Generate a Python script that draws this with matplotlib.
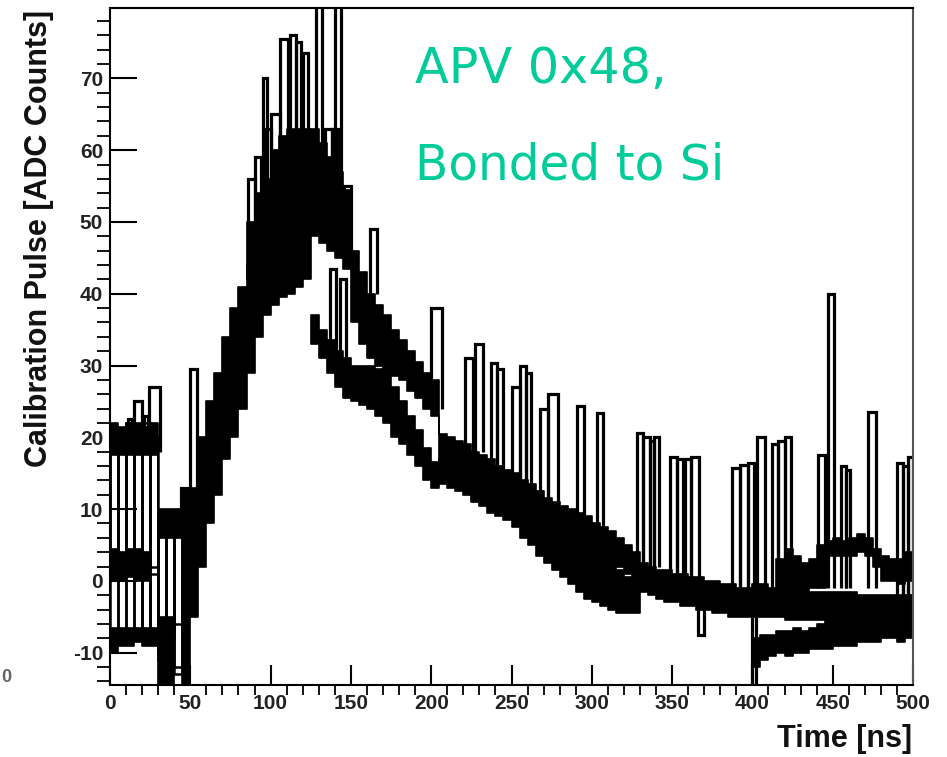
import numpy as np
import matplotlib
matplotlib.use("Agg")
import matplotlib.pyplot as plt

plt.rcParams["axes.unicode_minus"] = False

BIN = 5.0  # ns per sample bin

# ---- early region (0-50 ns): three level bands, per bin ----
EARLY_T0 = 0
EA_LO = [17.5, 17.5, 17.5, 17.5, 17.5, 17.5, 6.0, 6.0, 6.0, -14.5]
EA_HI = [22.0, 21.5, 22.0, 22.0, 21.5, 22.0, 10.0, 10.0, 10.0, 12.7]
EB_LO = [0.0, 0.0, 0.5, 0.0, 0.0, 0.5, np.nan, np.nan, np.nan, np.nan]
EB_HI = [4.5, 4.0, 4.5, 4.5, 4.0, 4.5, np.nan, np.nan, np.nan, np.nan]
EC_LO = [-10.0, -9.0, -9.0, -8.5, -9.0, -9.0, -14.5, -14.5, -14.5, np.nan]
EC_HI = [-6.5, -6.5, -6.5, -6.5, -6.5, -6.5, -5.0, -5.0, -5.0, np.nan]

# single channels jumping between levels in the first 50 ns
CH_EARLY = [
    [21, 2, 20, 3, 22, 2, 9, -8, 8, 12],
    [-8, 3, -7, 19, -8, 1, -10, 8, -12, 5],
    [2, 20, 1, -8, 18, -7, 8, 8, -13, 0],
    [20, -8, 22, 2, -7, 20, -11, 9, -6, 10],
]

# ---- rising edge, all channels (50-125 ns) ----
RISE_T0 = 50
RISE_LO = [-5, 2, 8, 12, 17, 20, 24, 29, 34, 37, 38.5, 39.5, 40, 41, 42]
RISE_HI = [13, 20, 25, 29, 34, 38, 41, 44, 47, 49, 50.5, 51, 51, 51, 51]

# ---- upper group around the peak (85-125 ns) ----
UP_T0 = 85
UP_LO = [42, 45, 47, 48, 48.5, 49, 49, 48.5]
UP_HI = [50, 54, 56, 60, 62, 63, 63, 63]

# ---- slow group, decay (125-500 ns) ----
SLOW_T0 = 125
SLOW_LO = [48, 47, 46, 45, 43.5, 36, 33, 31, 30, 29.5, 28.5, 28, 26.5, 25.5, 24, 23,
           15.5, 15, 14.5, 14, 13, 12.5, 12, 11, 10.5, 10, 9.5, 9, 8, 7.5, 7, 6, 5.5,
           4.5, 4, 3.5, 3, 2.5, 2, 1, 0, -1.5, -2, -2.5, -3, -3, -3.5, -3.5, -4, -4,
           -4.5, -4.5, -5, -5, -5, -5, -5, -5, -5, -5.5, -5.5, -5.5, -5.5, -5.5, -6,
           -6, -6, -6, -6, -6, -6, -6, -6, -6, -6]
SLOW_HI = [63, 61, 59, 57, 54.5, 46, 43, 40, 38.5, 37, 35, 33.5, 32, 30.5, 29, 28,
           20.5, 20, 19.5, 19, 18, 17.5, 17, 16, 15.5, 15, 14, 13.5, 12.5, 11.5, 11,
           10.5, 10, 9.5, 9, 8, 7.5, 7, 6, 5, 4, 2.5, 2, 1.5, 1.5, 1, 1, 0.5, 0.5, 0,
           0, -0.5, -0.5, -1, -1, -0.5, -0.5, -1, -1, -1, -1, -1, -1.5, -1.5, -1.5,
           -1.5, -1.5, -1.5, -2, -2, -2, -2, -2, -2, -2]

# ---- fast group, drops at 125 ns (125-330 ns) ----
FAST_T0 = 125
FAST_LO = [33, 31, 29, 27, 25.5, 25, 24.5, 24, 23, 22, 20, 19, 17.5, 16, 14, 13,
           13.5, 13, 12.5, 12, 11, 10.5, 9.5, 9, 8.5, 7.5, 6, 5, 3.5, 2.5, 1.5, 0.5,
           -0.5, -1.5, -2.5, -3, -3.5, -4, -4.5, -4.5, -4.5]
FAST_HI = [37, 35, 33.5, 32, 31, 30, 30, 30, 29.5, 29.5, 27, 25, 23, 21, 18.5, 16.5,
           17, 16.5, 16, 15.5, 15, 14.5, 13.5, 13, 12.5, 12, 11, 10, 9, 8, 7.5, 6.5,
           6, 5, 4, 3.5, 3, 2.5, 1.5, 0.5, 0]

# ---- group that drops at 400 ns ----
LATE_T0 = 400
LATE_LO = [-12, -11, -10.5, -10, -10.5, -10, -10, -9.5, -9.5, -9.5, -9, -9, -9, -8.5,
           -8.5, -8.5, -8, -8, -8.5, -8]
LATE_HI = [-8, -7.5, -7.5, -7, -7, -6.5, -7, -6.5, -6, -6, -6, -5.5, -6, -5.5, -5, -5,
           -5, -5, -5, -4.5]

# ---- small upper group at the end ----
TAIL_T0 = 415
TAIL_LO = [-1, -1, -1, -1, -1, -1, 3.5, 3.5, 3.5, 3.5, 4, 3.5, 2, 0, 0, -0.5, 0]
TAIL_HI = [3, 4.5, 3.5, 2.5, 3, 5, 5.5, 6, 5.5, 6, 6.5, 6, 4.5, 3.5, 3, 3, 4]

# ---- isolated spikes: (t start, t end, top, base) ----
SPIKES = [
    (11, 14, 22.5, 18), (15, 20, 25, 18), (21, 23.5, 23, 18), (24, 31, 27, 18),
    (44, 49, 13, 10), (50, 54, 29.5, 12),
    (86, 90, 56, 44), (90, 94, 59, 46), (95, 98, 70, 52), (97, 100, 63, 52),
    (100, 106, 65, 55), (106, 111, 75.5, 58), (112, 116, 76, 58), (116, 119, 75, 58),
    (120, 123, 73.5, 58), (127, 130, 60, 50), (128, 132, 85, 58), (134, 138, 63, 52),
    (138, 142, 63, 55), (140, 144, 85, 55), (146, 150, 55, 45),
    (137, 141, 43.5, 30), (143, 147, 42, 28), (162, 166, 49, 40),
    (200, 207, 38, 24), (221, 226, 31, 18), (227, 232, 33, 18), (237, 241, 30.3, 15),
    (241, 245, 29.5, 15), (250, 255, 27, 13), (255, 259, 30, 13), (259, 262, 29, 13),
    (268, 273, 24, 10), (273, 279, 26, 10),
    (291, 295, 24.3, 8), (303, 307, 23.4, 7),
    (328, 332, 20.6, 2), (332, 336, 20, 2), (336, 339, 19.5, 2), (339, 342, 20, 2),
    (349, 353, 17.3, 0), (353, 357, 17, 0), (358, 362, 17, 0), (362, 367, 17.3, 0),
    (366, 370, -7.5, -3),
    (387, 392, 15.7, -1), (392, 397, 16.2, -1), (397, 401, 16.4, -1),
    (400, 402, -14.5, -5), (403, 408, 20, -1), (412, 416, 19, -1), (416, 420, 19.5, -1),
    (420, 424, 20, -1), (441, 445, 17.5, -1), (447, 451, 40, -1), (455, 458, 16, -1),
    (458, 461, 15.5, -1), (472, 477, 23.5, -1), (490, 494, 16.4, -2), (494, 497, 16, -2),
    (497, 500, 17.3, -2),
]

XTICKS = list(range(0, 501, 50))
YTICKS = list(range(-10, 71, 10))
GREEN = "#00CC99"
FONT = "Liberation Sans"


def band(ax, t0, lo, hi):
    lo = np.asarray(lo, float)
    hi = np.asarray(hi, float)
    edges = t0 + BIN * np.arange(len(lo) + 1)
    ax.fill_between(edges, np.append(lo, lo[-1]), np.append(hi, hi[-1]),
                    step="post", facecolor="k", edgecolor="k", lw=1.2)


fig = plt.figure(figsize=(9.47, 7.57), dpi=100)
ax = fig.add_axes([110 / 947, 1 - 685 / 757, 803 / 947, 677 / 757])

for t0, lo, hi in [(EARLY_T0, EA_LO, EA_HI), (EARLY_T0, EB_LO, EB_HI), (EARLY_T0, EC_LO, EC_HI),
                   (RISE_T0, RISE_LO, RISE_HI), (UP_T0, UP_LO, UP_HI),
                   (SLOW_T0, SLOW_LO, SLOW_HI), (FAST_T0, FAST_LO, FAST_HI),
                   (LATE_T0, LATE_LO, LATE_HI), (TAIL_T0, TAIL_LO, TAIL_HI)]:
    band(ax, t0, lo, hi)

for ch in CH_EARLY:
    ax.stairs(ch, EARLY_T0 + BIN * np.arange(len(ch) + 1), color="k", lw=1.8)

for t0, t1, top, base in SPIKES:
    ax.stairs([top], [t0, t1], baseline=base, color="k", lw=2.3)

ax.set_xlim(0, 500)
ax.set_ylim(-14.5, 79.8)
ax.set_xticks(XTICKS)
ax.set_xticks(np.arange(0, 501, 10), minor=True)
ax.set_yticks(YTICKS)
ax.set_yticks(np.arange(-14, 80, 2), minor=True)
ax.tick_params(direction="in", width=1.5, colors="k", labelcolor="#222222",
               labelsize=15, top=False, right=False)
ax.tick_params(axis="x", which="major", length=14.4, pad=6.5)
ax.tick_params(axis="x", which="minor", length=7.2, width=1.3)
ax.tick_params(axis="y", which="major", length=19.5, pad=5)
ax.tick_params(axis="y", which="minor", length=9.7, width=1.3)
for lab in ax.get_xticklabels() + ax.get_yticklabels():
    lab.set_fontfamily(FONT)
    lab.set_fontweight("bold")
for s in ax.spines.values():
    s.set_linewidth(1.5)
ax.spines["right"].set_color("#555555")

fig.text(912 / 947, 1 - 747 / 757, "Time [ns]", ha="right", va="baseline",
         fontsize=22, fontweight="bold", family=FONT, color="#111111")
fig.text(39 / 947, 1 - 10 / 757, "Calibration Pulse [ADC Counts]", rotation=90,
         ha="center", va="top", fontsize=22, fontweight="bold", family=FONT, color="#111111")
fig.text(1 / 947, 1 - 678 / 757, "0", ha="left", va="center", fontsize=13,
         fontweight="bold", family=FONT, color="#666666")

ax.text(415 / 947, 1 - 83 / 757, "APV 0x48,", transform=fig.transFigure, ha="left",
        va="baseline", fontsize=35.5, family="DejaVu Sans", color=GREEN)
ax.text(415 / 947, 1 - 180 / 757, "Bonded to Si", transform=fig.transFigure, ha="left",
        va="baseline", fontsize=35, family="DejaVu Sans", color=GREEN)

fig.savefig("out.png", dpi=100)
